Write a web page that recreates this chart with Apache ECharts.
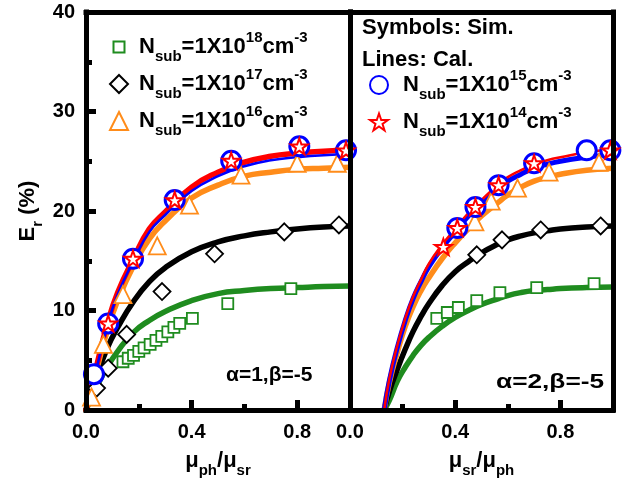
<!DOCTYPE html>
<html><head><meta charset="utf-8">
<style>html,body{margin:0;padding:0;background:#fff}#c{width:627px;height:480px}</style>
<script src="https://cdn.jsdelivr.net/npm/echarts@6/dist/echarts.min.js"></script>
</head><body><div id="c"></div>
<script>
// ---------------- DATA ----------------
const xTickLabels = ['0.0', '0.4', '0.8'];
const yTickLabels = ['0', '10', '20', '30', '40'];

// Left panel  (x = mu_ph/mu_sr, alpha=1, beta=-5) : simulation symbols
const simL18x = [0.14, 0.16, 0.18, 0.20, 0.22, 0.243, 0.265, 0.287, 0.31, 0.333, 0.355, 0.403, 0.537, 0.776];
const simL18y = [4.85, 5.2, 5.5, 5.9, 6.25, 6.6, 7.0, 7.4, 7.85, 8.3, 8.7, 9.2, 10.7, 12.2];
const simL17x = [0.04, 0.084, 0.154, 0.288, 0.487, 0.751, 0.958];
const simL17y = [2.2, 4.2, 7.6, 11.9, 15.7, 17.9, 18.6];
const simL16x = [0.021, 0.066, 0.14, 0.27, 0.392, 0.587, 0.80, 0.952];
const simL16y = [1.3, 6.6, 11.6, 16.5, 20.6, 23.6, 24.8, 24.8];
const simL15x = [0.03, 0.084, 0.178, 0.336, 0.55, 0.808, 0.985];
const simL15y = [3.6, 8.7, 15.2, 21.1, 25.05, 26.5, 26.1];
const simL14x = [0.084, 0.178, 0.336, 0.55, 0.808, 0.985];
const simL14y = [8.7, 15.2, 21.1, 25.05, 26.5, 26.1];

// Left panel : calculated lines
const calLx   = [0, 0.04, 0.08, 0.12, 0.18, 0.24, 0.3, 0.4, 0.5, 0.6, 0.7, 0.8, 0.9, 1.0];
const calL14y = [0, 4.4, 8.6, 11.8, 15.2, 18.2, 19.9, 22.4, 23.9, 24.9, 25.5, 25.8, 26.0, 26.1];
const calL15y = [0, 4.2, 8.4, 11.6, 15.0, 17.9, 19.6, 22.0, 23.5, 24.5, 25.1, 25.4, 25.6, 25.7];
const calL16y = [0, 4.0, 7.9, 11.0, 14.5, 17.2, 19.0, 21.3, 22.6, 23.5, 23.9, 24.2, 24.3, 24.4];
const calL17y = [0, 3.3, 6.2, 8.3, 10.9, 12.9, 14.3, 15.9, 16.9, 17.5, 17.9, 18.2, 18.4, 18.5];
const calL18y = [0, 2.3, 4.3, 5.9, 7.8, 9.0, 9.9, 11.0, 11.7, 12.0, 12.2, 12.3, 12.4, 12.45];

// Right panel (x = mu_sr/mu_ph, alpha=2, beta=-5) : simulation symbols
const simR18x = [0.33, 0.37, 0.412, 0.482, 0.57, 0.71, 0.928];
const simR18y = [9.2, 9.8, 10.3, 11.0, 11.8, 12.3, 12.7];
const simR17x = [0.482, 0.578, 0.725, 0.953];
const simR17y = [15.6, 17.1, 18.1, 18.5];
const simR16x = [0.475, 0.537, 0.637, 0.757, 0.947];
const simR16y = [18.9, 21.0, 22.3, 23.9, 24.9];
const simR15x = [0.408, 0.477, 0.565, 0.70, 0.90, 0.99];
const simR15y = [18.3, 20.4, 22.6, 24.8, 26.1, 26.1];
const simR14x = [0.355, 0.408, 0.477, 0.565, 0.70, 0.99];
const simR14y = [16.4, 18.3, 20.4, 22.6, 24.8, 26.1];

// Right panel : calculated lines
const calRx   = [0.13, 0.15, 0.18, 0.21, 0.24, 0.27, 0.3, 0.35, 0.4, 0.45, 0.5, 0.565, 0.6, 0.65, 0.7, 0.75, 0.8, 0.9, 1.0];
const calR14y = [0, 3.2, 6.5, 9.2, 11.4, 13.1, 14.7, 16.6, 18.2, 19.8, 21.1, 22.7, 23.4, 24.1, 24.7, 25.1, 25.4, 25.9, 26.2];
const calR15y = [0, 3.0, 6.3, 9.0, 11.2, 12.9, 14.4, 16.3, 17.9, 19.5, 20.8, 22.3, 23.0, 23.7, 24.3, 24.7, 25.0, 25.4, 25.7];
const calR16y = [0, 2.8, 5.8, 8.4, 10.4, 12.0, 13.3, 15.2, 16.8, 18.2, 19.5, 20.9, 21.6, 22.4, 23.0, 23.4, 23.7, 24.1, 24.3];
const calR17y = [0, 1.9, 4.1, 6.1, 7.9, 9.4, 10.7, 12.5, 13.9, 14.9, 15.8, 16.7, 17.1, 17.5, 17.8, 18.0, 18.2, 18.4, 18.5];
const calR18y = [0, 1.0, 2.9, 4.3, 5.5, 6.5, 7.3, 8.4, 9.3, 10.0, 10.6, 11.2, 11.5, 11.8, 12.0, 12.1, 12.2, 12.3, 12.35];

// ---------------- STYLE ----------------
const FONT = '"Liberation Sans", Arial, sans-serif';
const C18 = '#1f8c1f', C17 = '#000000', C16 = '#ff8c1a', C15 = '#0000ff', C14 = '#ff0000';
const STAR = 'path://M50,2 L61.8,36.2 L97.6,36.2 L68.6,57.6 L79.4,92 L50,71 L20.6,92 L31.4,57.6 L2.4,36.2 L38.2,36.2 Z';
const zip = (xs, ys) => xs.map((x, i) => [x, ys[i]]);

const rich = {
  m: { fontSize: 22, fontWeight: 'bold', fontFamily: FONT, color: '#000', lineHeight: 34, verticalAlign: 'middle' },
  s: { fontSize: 15, fontWeight: 'bold', fontFamily: FONT, color: '#000', lineHeight: 13, verticalAlign: 'bottom' },
  p: { fontSize: 15, fontWeight: 'bold', fontFamily: FONT, color: '#000', lineHeight: 12, verticalAlign: 'top' }
};
const legendNames = {
  N18: '{m|N}{s|sub}{m|=1X10}{p|18}{m|cm}{p|-3}',
  N17: '{m|N}{s|sub}{m|=1X10}{p|17}{m|cm}{p|-3}',
  N16: '{m|N}{s|sub}{m|=1X10}{p|16}{m|cm}{p|-3}',
  N15: '{m|N}{s|sub}{m|=1X10}{p|15}{m|cm}{p|-3}',
  N14: '{m|N}{s|sub}{m|=1X10}{p|14}{m|cm}{p|-3}'
};

const lineW = 5;
function frameX(grid, pos) {
  return { type: 'value', gridIndex: grid, position: pos, min: 0, max: 1, z: 5,
    axisLine: { show: true, onZero: false, lineStyle: { color: '#000', width: lineW, cap: 'square' } },
    axisTick: { show: false }, axisLabel: { show: false }, splitLine: { show: false } };
}
function frameY(grid, pos) {
  return { type: 'value', gridIndex: grid, position: pos, min: 0, max: 40, z: 5,
    axisLine: { show: true, onZero: false, lineStyle: { color: '#000', width: lineW, cap: 'square' } },
    axisTick: { show: false }, axisLabel: { show: false }, splitLine: { show: false } };
}
function mainX(grid, nameRich) {
  return { type: 'value', gridIndex: grid, position: 'bottom', min: 0, max: 1, interval: 0.4, z: 5,
    axisLine: { show: true, onZero: false, lineStyle: { color: '#000', width: lineW, cap: 'square' } },
    axisTick: { show: true, inside: true, length: 10, lineStyle: { color: '#000', width: 5 } },
    axisLabel: { show: true, margin: 12, color: '#000', fontSize: 20, fontWeight: 'bold', fontFamily: FONT,
      formatter: v => { const s = v.toFixed(1); return xTickLabels.indexOf(s) >= 0 ? s : ''; } },
    splitLine: { show: false },
    name: nameRich, nameLocation: 'middle', nameGap: 34, nameTextStyle: { rich: rich } };
}
function minorX(grid) {
  return { type: 'value', gridIndex: grid, position: 'bottom', min: 0, max: 1, interval: 0.2, z: 5,
    axisLine: { show: false, onZero: false },
    axisTick: { show: true, inside: true, length: 6, lineStyle: { color: '#000', width: 5 } },
    axisLabel: { show: false }, splitLine: { show: false } };
}

function scatter(name, xi, yi, data, symbol, size, color, bw, z) {
  return { type: 'scatter', name: name, xAxisIndex: xi, yAxisIndex: yi, data: data,
    symbol: symbol, symbolSize: size, symbolKeepAspect: true, z: z,
    itemStyle: { color: '#fff', borderColor: color, borderWidth: bw, opacity: 1 }, emphasis: { disabled: true } };
}
function line(name, xi, yi, data, color, w, z) {
  return { type: 'line', name: name, xAxisIndex: xi, yAxisIndex: yi, data: data, showSymbol: false, symbol: 'none',
    smooth: 0.5, z: z, lineStyle: { color: color, width: w, cap: 'round', join: 'round' }, itemStyle: { color: color },
    emphasis: { disabled: true } };
}

const series = [
  // left panel lines
  line('L18', 0, 0, zip(calLx, calL18y), C18, 5.5, 2),
  line('L17', 0, 0, zip(calLx, calL17y), C17, 5.5, 2),
  line('L16', 0, 0, zip(calLx, calL16y), C16, 5.5, 2),
  line('L14', 0, 0, zip(calLx, calL14y), C14, 5.5, 2),
  line('L15', 0, 0, zip(calLx, calL15y), C15, 2.5, 2),
  // right panel lines
  line('R18', 3, 2, zip(calRx, calR18y), C18, 5.5, 2),
  line('R17', 3, 2, zip(calRx, calR17y), C17, 5.5, 2),
  line('R16', 3, 2, zip(calRx, calR16y), C16, 5.5, 2),
  line('R15', 3, 2, zip(calRx, calR15y), C15, 5, 2),
  line('R14', 3, 2, zip(calRx, calR14y), C14, 2.5, 2),
  // left panel symbols
  scatter('N18', 0, 0, zip(simL18x, simL18y), 'rect', 11, C18, 1.8, 3),
  scatter('N17', 0, 0, zip(simL17x, simL17y), 'diamond', 17, C17, 1.8, 3),
  scatter('N16', 0, 0, zip(simL16x, simL16y), 'triangle', 17, C16, 1.8, 3),
  scatter('N15', 0, 0, zip(simL15x, simL15y), 'circle', 19, C15, 3, 3),
  scatter('N14', 0, 0, zip(simL14x, simL14y), STAR, 17, C14, 2, 4),
  // right panel symbols
  scatter('N18', 3, 2, zip(simR18x, simR18y), 'rect', 11, C18, 1.8, 3),
  scatter('N17', 3, 2, zip(simR17x, simR17y), 'diamond', 17, C17, 1.8, 3),
  scatter('N16', 3, 2, zip(simR16x, simR16y), 'triangle', 17, C16, 1.8, 3),
  scatter('N15', 3, 2, zip(simR15x, simR15y), 'circle', 19, C15, 3, 3),
  scatter('N14', 3, 2, zip(simR14x, simR14y), STAR, 17, C14, 2, 4)
];

const option = {
  animation: false,
  backgroundColor: '#fff',
  grid: [
    { left: 86, right: 277, top: 12, bottom: 70, outerBoundsMode: 'none', containLabel: false },
    { left: 350, right: 14, top: 12, bottom: 70, outerBoundsMode: 'none', containLabel: false }
  ],
  xAxis: [
    mainX(0, '{m|μ}{s|ph}{m|/μ}{s|sr}'), minorX(0), frameX(0, 'top'),
    mainX(1, '{m|μ}{s|sr}{m|/μ}{s|ph}'), minorX(1), frameX(1, 'top')
  ],
  yAxis: [
    { type: 'value', gridIndex: 0, position: 'left', min: 0, max: 40, interval: 10, z: 5,
      axisLine: { show: true, onZero: false, lineStyle: { color: '#000', width: lineW, cap: 'square' } },
      axisTick: { show: true, inside: true, length: 10, lineStyle: { color: '#000', width: 5 } },
      minorTick: { show: true, splitNumber: 2, length: 6, lineStyle: { color: '#000', width: 5 } },
      axisLabel: { show: true, margin: 11, color: '#000', fontSize: 20, fontWeight: 'bold', fontFamily: FONT,
        formatter: v => { const s = String(Math.round(v)); return yTickLabels.indexOf(s) >= 0 ? s : ''; } },
      splitLine: { show: false }, minorSplitLine: { show: false },
      name: '{m|E}{s|r}{m| (%)}', nameLocation: 'middle', nameGap: 41, nameRotate: 90, nameTextStyle: { rich: rich } },
    frameY(0, 'right'),
    frameY(1, 'left'),
    frameY(1, 'right')
  ],
  legend: [
    { orient: 'vertical', left: 109, top: 30, padding: 0, itemGap: 3, itemWidth: 18, itemHeight: 18,
      selectedMode: false,
      data: [{ name: 'N18', icon: 'path://M0,0 M18,18 M3.5,3.5 L14.5,3.5 L14.5,14.5 L3.5,14.5 Z' }, { name: 'N17' }, { name: 'N16' }],
      formatter: n => legendNames[n], textStyle: { padding: [0, 0, 0, 6], rich: rich } },
    { orient: 'vertical', left: 369, top: 68, padding: 0, itemGap: 3, itemWidth: 18, itemHeight: 18,
      selectedMode: false,
      data: [{ name: 'N15' }, { name: 'N14' }],
      formatter: n => legendNames[n], textStyle: { padding: [0, 0, 0, 10], rich: rich } }
  ],
  graphic: [
    { type: 'text', x: 362, y: 28, z: 10, style: { text: 'Symbols: Sim.', fill: '#000', font: 'bold 22px ' + FONT, verticalAlign: 'middle', align: 'left' } },
    { type: 'text', x: 362, y: 60, z: 10, style: { text: 'Lines: Cal.', fill: '#000', font: 'bold 22px ' + FONT, verticalAlign: 'middle', align: 'left' } },
    { type: 'text', x: 226, y: 375, z: 10, style: { text: 'α=1,β=-5', fill: '#000', font: 'bold 21px ' + FONT, verticalAlign: 'middle', align: 'left' } },
    { type: 'text', x: 496, y: 382, z: 10, scaleX: 1.25, style: { text: 'α=2,β=-5', fill: '#000', font: 'bold 21px ' + FONT, verticalAlign: 'middle', align: 'left' } }
  ],
  series: series
};

const chart = echarts.init(document.getElementById('c'), null, { renderer: 'canvas' });
chart.setOption(option);
</script></body></html>
